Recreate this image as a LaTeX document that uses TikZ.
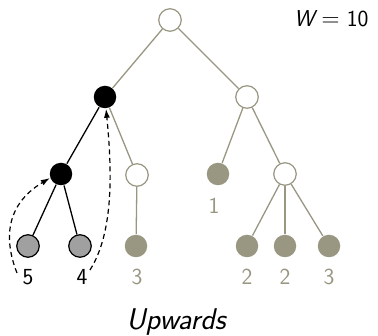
\documentclass[tikz,border=0pt]{standalone}
\usetikzlibrary{arrows.meta}
\definecolor{tan}{RGB}{153,150,130}
\definecolor{leafgray}{RGB}{160,160,160}
\begin{document}
\begin{tikzpicture}[x=1pt,y=-1pt,
  every node/.style={font=\sffamily},
  vtx/.style={circle,minimum size=22.5pt,inner sep=0pt,line width=1.2pt},
  open/.style={vtx,draw=tan,fill=white},
  done/.style={vtx,fill=tan},
  active/.style={vtx,fill=black},
  visited/.style={vtx,draw=black,fill=leafgray},
  tedge/.style={draw=tan,line width=1.3pt},
  bedge/.style={draw=black,line width=1.3pt},
  wlabel/.style={font=\sffamily\fontsize{23}{25}\selectfont},
  trace/.style={dashed,dash pattern=on 5pt off 3.5pt,line width=1.2pt,-{Latex[length=9pt,width=6pt]}}
]
\useasboundingbox (0,0) rectangle (378,336);

% tree vertices
\node[open]    (r)   at (170,20)  {};
\node[active]  (a)   at (105,97)  {};
\node[open]    (b)   at (247,97)  {};
\node[active]  (c)   at (61,174)  {};
\node[open]    (d)   at (137,175) {};
\node[done]    (e)   at (218,174) {};
\node[open]    (f)   at (285,174) {};
\node[visited] (l1)  at (28,246)  {};
\node[visited] (l2)  at (80,246)  {};
\node[done]    (l3)  at (136,246) {};
\node[done]    (l4)  at (247,246) {};
\node[done]    (l5)  at (285,246) {};
\node[done]    (l6)  at (329,246) {};

% edges
\path[tedge] (r) -- (a);
\path[tedge] (r) -- (b);
\path[bedge] (a) -- (c);
\path[tedge] (a) -- (d);
\path[tedge] (b) -- (e);
\path[tedge] (b) -- (f);
\path[bedge] (c) -- (l1);
\path[bedge] (c) -- (l2);
\path[tedge] (d) -- (l3);
\path[tedge] (f) -- (l4);
\path[tedge] (f) -- (l5);
\path[tedge] (f) -- (l6);

% weights
\node[wlabel,text=black] (w1) at (28,277)  {5};
\node[wlabel,text=black] (w2) at (82,277)  {4};
\node[wlabel,text=tan]   (w3) at (137,277) {3};
\node[wlabel,text=tan]   (w4) at (214,206) {1};
\node[wlabel,text=tan]   (w5) at (247,277) {2};
\node[wlabel,text=tan]   (w6) at (285,277) {2};
\node[wlabel,text=tan]   (w7) at (329,277) {3};

% upward traces
\coordinate (s1) at (17,273);
\coordinate (s2) at (90,270);
\draw[trace] (s1) .. controls (4,240) and (5,205) .. (c.200);
\draw[trace] (s2) .. controls (114,232) and (112,170) .. (a.-85);

\node[wlabel,anchor=east] (wt) at (372,19) {\itshape W\upshape\ $=$ 10};
\node[font=\sffamily\itshape\fontsize{30}{32}\selectfont] (cap) at (176,322) {Upwards};
\end{tikzpicture}
\end{document}
